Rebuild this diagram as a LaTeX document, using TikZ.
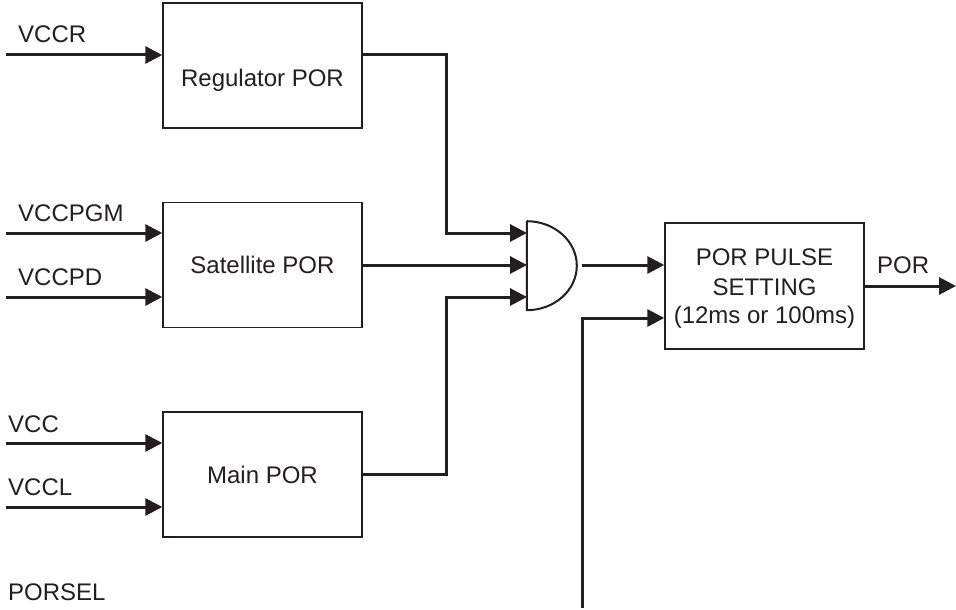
\documentclass[tikz,border=0pt]{standalone}
\usepackage{fontspec}
\setmainfont{Liberation Sans}
\usetikzlibrary{arrows.meta}
\definecolor{ink}{HTML}{231F20}
\begin{document}
\begin{tikzpicture}[x=1pt,y=-1pt,
  box/.style={draw=ink,line width=1.4pt,minimum width=199pt,minimum height=125pt,inner sep=0pt},
  wire/.style={draw=ink,line width=3pt},
  arr/.style={wire,-{Triangle[length=17pt,width=17pt]}},
  txt/.style={font=\fontsize{24}{29}\selectfont,text=ink,inner sep=0pt},
]
\useasboundingbox (0,0) rectangle (956,610);

% blocks
\node[box] (reg) at (262.5,65.5) {};
\node[box] (sat) at (262.5,265) {};
\node[box] (main) at (262.5,474.5) {};
\node[box,minimum height=126pt] (pps) at (764.5,286) {};
\node[minimum width=50pt,minimum height=89pt,inner sep=0pt] (gate) at (552,265.5) {};

% AND gate outline
\draw[ink,line width=2pt] (gate.north west) -- (gate.south west)
  arc[start angle=-90,end angle=90,x radius=50pt,y radius=44.5pt];

% block texts
\node[txt,anchor=base] (regt) at (262.5,87) {Regulator POR};
\node[txt,anchor=base] (satt) at (262.5,273) {Satellite POR};
\node[txt,anchor=base] (maint) at (262.5,483) {Main POR};
\node[txt,anchor=base] (ppst1) at (764.5,265) {POR PULSE};
\node[txt,anchor=base] (ppst2) at (764.5,295) {SETTING};
\node[txt,anchor=base] (ppst3) at (764.5,323) {(12ms or 100ms)};

% signal labels
\node[txt,anchor=base west] (lvccr) at (18,43) {VCCR};
\node[txt,anchor=base west] (lvccpgm) at (18,221) {VCCPGM};
\node[txt,anchor=base west] (lvccpd) at (18,285) {VCCPD};
\node[txt,anchor=base west] (lvcc) at (8,432) {VCC};
\node[txt,anchor=base west] (lvccl) at (8,495) {VCCL};
\node[txt,anchor=base west] (lporsel) at (8,600) {PORSEL};
\node[txt,anchor=base west] (lpor) at (877,273) {POR};

% free ends / junction coordinates
\coordinate (inR) at (6,55);
\coordinate (inPGM) at (6,233);
\coordinate (inPD) at (6,297);
\coordinate (inVCC) at (6,443);
\coordinate (inVCCL) at (6,507);
\coordinate (bus) at (446,0);
\coordinate (g1) at (527,233);
\coordinate (g2) at (527,265);
\coordinate (g3) at (527,297);
\coordinate (gout) at (582,265);
\coordinate (ps) at (582,608);
\coordinate (porout) at (956,286);

% inputs
\draw[arr] (inR) -- (inR -| reg.west);
\draw[arr] (inPGM) -- (inPGM -| sat.west);
\draw[arr] (inPD) -- (inPD -| sat.west);
\draw[arr] (inVCC) -- (inVCC -| main.west);
\draw[arr] (inVCCL) -- (inVCCL -| main.west);

% to gate
\draw[arr] (inR -| reg.east) -| (bus |- g1) -- (g1);
\draw[arr] (sat.east) -- (g2);
\draw[arr] (main.east) -| (bus |- g3) -- (g3);

% gate to pulse block
\draw[arr] (gout) -- (gout -| pps.west);
\draw[arr] (ps) |- ([yshift=-32pt]pps.west);
\draw[arr] (pps.east) -- (porout);
\end{tikzpicture}
\end{document}
